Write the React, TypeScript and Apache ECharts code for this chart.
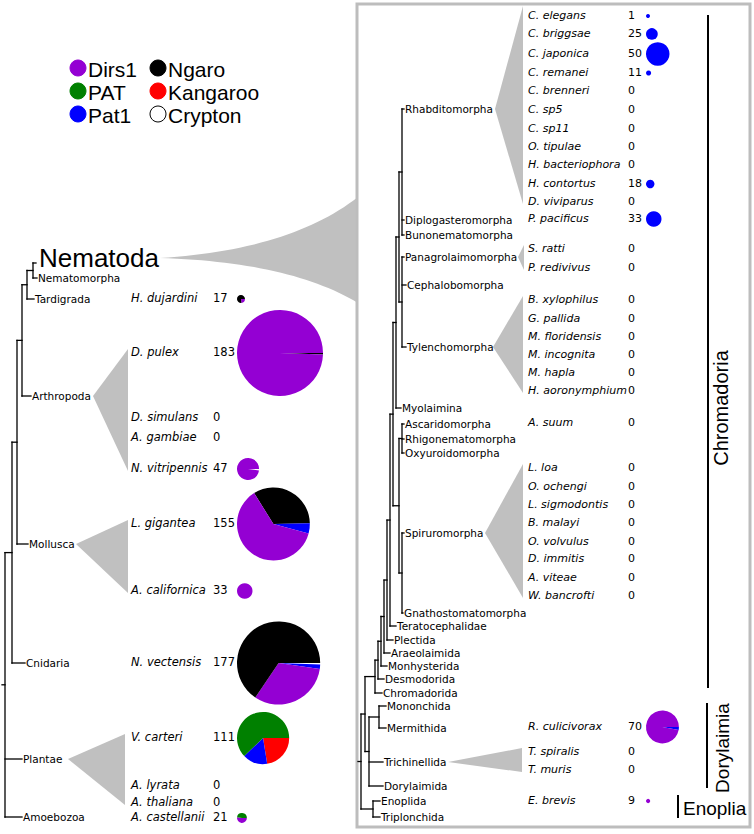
import React, { useEffect, useRef } from "react";
import * as echarts from "echarts";

// ---------- data ----------
const families = ["Dirs1", "PAT", "Pat1", "Ngaro", "Kangaroo", "Crypton"];
const familyColors = ["#9400D3", "#008000", "#0000FF", "#000000", "#FF0000", "#FFFFFF"];

const leftSpecies = ["H. dujardini", "D. pulex", "D. simulans", "A. gambiae", "N. vitripennis", "L. gigantea",
  "A. californica", "N. vectensis", "V. carteri", "A. lyrata", "A. thaliana", "A. castellanii"];
const leftCounts = [17, 183, 0, 0, 47, 155, 33, 177, 111, 0, 0, 21];

const rightSpecies = ["C. elegans", "C. briggsae", "C. japonica", "C. remanei", "C. brenneri", "C. sp5", "C. sp11",
  "O. tipulae", "H. bacteriophora", "H. contortus", "D. viviparus", "P. pacificus", "S. ratti", "P. redivivus",
  "B. xylophilus", "G. pallida", "M. floridensis", "M. incognita", "M. hapla", "H. aoronymphium", "A. suum",
  "L. loa", "O. ochengi", "L. sigmodontis", "B. malayi", "O. volvulus", "D. immitis", "A. viteae", "W. bancrofti",
  "R. culicivorax", "T. spiralis", "T. muris", "E. brevis"];
const rightCounts = [1, 25, 50, 11, 0, 0, 0, 0, 0, 18, 0, 33, 0, 0, 0, 0, 0, 0, 0, 0, 0, 0, 0, 0, 0, 0, 0, 0, 0, 70, 0, 0, 9];

// slice composition, listed clockwise from the pie's start angle
const composition: Record<string, [string, number][]> = {
  "H. dujardini": [["Dirs1", 4], ["Ngaro", 13]],
  "D. pulex": [["Ngaro", 1], ["Dirs1", 182]],
  "N. vitripennis": [["Crypton", 1], ["Dirs1", 46]],
  "L. gigantea": [["Ngaro", 52], ["Pat1", 7], ["Dirs1", 96]],
  "A. californica": [["Dirs1", 33]],
  "N. vectensis": [["Crypton", 1], ["Pat1", 3], ["Dirs1", 57], ["Ngaro", 116]],
  "V. carteri": [["Kangaroo", 25], ["Pat1", 17], ["PAT", 69]],
  "A. castellanii": [["Dirs1", 11], ["PAT", 10]],
  "C. elegans": [["Pat1", 1]],
  "C. briggsae": [["Pat1", 25]],
  "C. japonica": [["Pat1", 50]],
  "C. remanei": [["Pat1", 11]],
  "H. contortus": [["Pat1", 18]],
  "P. pacificus": [["Pat1", 33]],
  "R. culicivorax": [["Pat1", 2], ["Dirs1", 68]],
  "E. brevis": [["Dirs1", 9]],
};
const pieStartAngle: Record<string, number> = { "L. gigantea": 122 };

// ---------- layout ----------
const leftRowY = [298, 352, 417, 437, 468, 523, 590, 662, 737, 785, 802, 817];
const rightRowY = [15, 33, 53, 72, 90, 109, 128, 146, 164, 183, 201, 218, 248, 267, 299, 318, 336, 354, 372, 390,
  422, 467, 486, 504, 522, 541, 558, 577, 595, 726, 751, 769, 800];

type Leaf = { leaf: string; y: number; lx: number; big?: boolean };
type TNode = { x: number; children: (Leaf | TNode)[] };

const leftTree: TNode = {
  x: 5, children: [
    { x: 12, children: [
      { x: 17, children: [
        { x: 22, children: [
          { x: 27, children: [
            { x: 33, children: [{ leaf: "Nematoda", y: 263, lx: 37, big: true }, { leaf: "Nematomorpha", y: 278, lx: 38 }] },
            { leaf: "Tardigrada", y: 299, lx: 35 }] },
          { leaf: "Arthropoda", y: 396, lx: 32 }] },
        { leaf: "Mollusca", y: 544, lx: 29 }] },
      { leaf: "Cnidaria", y: 663, lx: 26 }] },
    { leaf: "Plantae", y: 759, lx: 23 },
    { leaf: "Amoebozoa", y: 817, lx: 23 }],
};

const rightTree: TNode = {
  x: 361, children: [
    { x: 365, children: [
      { x: 375, children: [
        { x: 378, children: [
          { x: 381, children: [
            { x: 384, children: [
              { x: 387, children: [
                { x: 390, children: [
                  { x: 393, children: [
                    { x: 396, children: [
                      { x: 399, children: [
                        { x: 402, children: [
                          { leaf: "Rhabditomorpha", y: 109, lx: 405 },
                          { leaf: "Diplogasteromorpha", y: 220, lx: 405 },
                          { leaf: "Bunonematomorpha", y: 235, lx: 405 }] },
                        { x: 402, children: [
                          { leaf: "Panagrolaimomorpha", y: 257, lx: 405 },
                          { leaf: "Cephalobomorpha", y: 285, lx: 407 },
                          { leaf: "Tylenchomorpha", y: 347, lx: 407 }] }] },
                      { leaf: "Myolaimina", y: 408, lx: 402 }] },
                    { x: 399, children: [
                      { x: 402, children: [
                        { leaf: "Ascaridomorpha", y: 424, lx: 405 },
                        { leaf: "Rhigonematomorpha", y: 439, lx: 405 },
                        { leaf: "Oxyuroidomorpha", y: 453, lx: 405 }] },
                      { x: 402, children: [
                        { leaf: "Spiruromorpha", y: 533, lx: 405 },
                        { leaf: "Gnathostomatomorpha", y: 613, lx: 404 }] }] }] },
                  { leaf: "Teratocephalidae", y: 626, lx: 397 }] },
                { leaf: "Plectida", y: 640, lx: 394 }] },
              { leaf: "Araeolaimida", y: 653, lx: 391 }] },
            { leaf: "Monhysterida", y: 666, lx: 388 }] },
          { leaf: "Desmodorida", y: 679, lx: 385 }] },
        { leaf: "Chromadorida", y: 693, lx: 383 }] },
      { x: 369, children: [
        { x: 379, children: [{ leaf: "Mononchida", y: 706, lx: 387 }, { leaf: "Mermithida", y: 728, lx: 387 }] },
        { leaf: "Trichinellida", y: 762, lx: 384 },
        { leaf: "Dorylaimida", y: 786, lx: 384 }] }] },
    { x: 373, children: [{ leaf: "Enoplida", y: 801, lx: 381 }, { leaf: "Triplonchida", y: 817, lx: 381 }] }],
};

// collapsed clade wedges: tip x, tip y, first/last species index, right x, side
const wedges = [
  { side: "L", tipX: 93, tipY: 396, from: 1, to: 4, rx: 128, padTop: 3 },
  { side: "L", tipX: 76, tipY: 544, from: 5, to: 6, rx: 128, padTop: 3 },
  { side: "L", tipX: 68, tipY: 759, from: 8, to: 10, rx: 125, padTop: 3 },
  { side: "R", tipX: 495, tipY: 109, from: 0, to: 10, rx: 523, padTop: 9 },
  { side: "R", tipX: 518, tipY: 257, from: 12, to: 13, rx: 524, padTop: 3 },
  { side: "R", tipX: 493, tipY: 347, from: 14, to: 19, rx: 523, padTop: 3 },
  { side: "R", tipX: 485, tipY: 533, from: 21, to: 28, rx: 523, padTop: 3 },
  { side: "R", tipX: 448, tipY: 762, from: 30, to: 31, rx: 522, padTop: 3 },
];

const SMALL = '10.5px "DejaVu Sans"';
const SPEC_L = 'italic 11.5px "DejaVu Sans"';
const NUM_L = '11.5px "DejaVu Sans"';
const SPEC_R = 'italic 11px "DejaVu Sans"';
const NUM_R = '11px "DejaVu Sans"';

function isLeaf(n: Leaf | TNode): n is Leaf {
  return (n as Leaf).leaf !== undefined;
}

function walk(node: TNode, lines: number[][][], labels: Leaf[]): number {
  const ys = node.children.map((c) => {
    if (isLeaf(c)) { labels.push(c); return c.y; }
    return walk(c, lines, labels);
  });
  lines.push([[node.x, ys[0]], [node.x, ys[ys.length - 1]]]);
  node.children.forEach((c, i) => {
    const endX = isLeaf(c) ? c.lx - 1 : c.x;
    lines.push([[node.x, ys[i]], [endX, ys[i]]]);
  });
  return (ys[0] + ys[ys.length - 1]) / 2;
}

function quad(p0: number[], c: number[], p2: number[], n: number) {
  const pts: number[][] = [];
  for (let i = 0; i <= n; i++) {
    const t = i / n;
    const a = (1 - t) * (1 - t), b = 2 * (1 - t) * t, d = t * t;
    pts.push([a * p0[0] + b * c[0] + d * p2[0], a * p0[1] + b * c[1] + d * p2[1]]);
  }
  return pts;
}

function buildOption() {
  const graphics: any[] = [];
  const lineStyle = { stroke: "#000", lineWidth: 1.3, fill: null, lineCap: "square" };

  // Nematoda fan
  const top = quad([160, 258], [290, 250], [358, 197], 30);
  const bot = quad([160, 258], [290, 262], [358, 303], 30).reverse();
  graphics.push({ type: "polygon", shape: { points: top.concat(bot) }, style: { fill: "#c0c0c0" }, silent: true });

  // right box
  graphics.push({ type: "rect", shape: { x: 357, y: 4, width: 393, height: 823 },
    style: { fill: "none", stroke: "#bdbdbd", lineWidth: 3 }, silent: true });

  // wedges
  wedges.forEach((w) => {
    const rows = w.side === "L" ? leftRowY : rightRowY;
    const y0 = rows[w.from] - w.padTop, y1 = rows[w.to] + 3;
    graphics.push({ type: "polygon", shape: { points: [[w.tipX, w.tipY], [w.rx, y0], [w.rx, y1]] },
      style: { fill: "#c0c0c0" }, silent: true });
  });

  // trees
  [leftTree, rightTree].forEach((tree) => {
    const lines: number[][][] = [];
    const labels: Leaf[] = [];
    const rootY = walk(tree, lines, labels);
    lines.push([[tree.x - 3, rootY], [tree.x, rootY]]);
    lines.forEach((pts) => graphics.push({ type: "polyline", shape: { points: pts }, style: lineStyle, silent: true }));
    labels.forEach((l) => {
      graphics.push({
        type: "text", x: l.big ? l.lx + 2 : l.lx, y: l.big ? l.y - 5 : l.y, silent: true,
        style: { text: l.leaf, font: l.big ? '26px "Liberation Sans"' : SMALL, fill: "#000",
          textAlign: "left", align: "left", textVerticalAlign: "middle", verticalAlign: "middle" },
      });
    });
  });

  // species names & counts
  const addSpecies = (names: string[], counts: number[], rows: number[], nameX: number, numX: number,
    fSpec: string, fNum: string) => {
    names.forEach((s, i) => {
      graphics.push({ type: "text", x: nameX, y: rows[i], silent: true,
        style: { text: s, font: fSpec, fill: "#000", textAlign: "left", align: "left", textVerticalAlign: "middle", verticalAlign: "middle" } });
      graphics.push({ type: "text", x: numX, y: rows[i], silent: true,
        style: { text: String(counts[i]), font: fNum, fill: "#000", textAlign: "left", align: "left", textVerticalAlign: "middle", verticalAlign: "middle" } });
    });
  };
  addSpecies(leftSpecies, leftCounts, leftRowY, 131, 213, SPEC_L, NUM_L);
  addSpecies(rightSpecies, rightCounts, rightRowY, 528, 628, SPEC_R, NUM_R);

  // legend
  const legendCols = [[0, 1, 2], [3, 4, 5]];
  legendCols.forEach((col, ci) => {
    col.forEach((fi, ri) => {
      const cx = ci === 0 ? 78 : 158;
      const cy = 68 + ri * 23;
      graphics.push({ type: "circle", shape: { cx, cy, r: 8 }, silent: true,
        style: { fill: familyColors[fi], stroke: families[fi] === "Crypton" ? "#000" : familyColors[fi], lineWidth: 1 } });
      graphics.push({ type: "text", x: cx + 10, y: cy + 1, silent: true,
        style: { text: families[fi], font: '21px "Liberation Sans"', fill: "#000", textAlign: "left", align: "left",
          textVerticalAlign: "middle", verticalAlign: "middle" } });
    });
  });

  // clade brackets
  const bracket = (x: number, y0: number, y1: number) =>
    graphics.push({ type: "line", shape: { x1: x, y1: y0, x2: x, y2: y1 }, style: { stroke: "#000", lineWidth: 2 }, silent: true });
  bracket(708, 15, 688);
  bracket(707, 703, 788);
  bracket(678, 795, 818);
  const bigLabel = (t: string, x: number, y: number, rot: number, align: string, size: number) =>
    graphics.push({ type: "text", x, y, rotation: rot, silent: true,
      style: { text: t, font: size + 'px "Liberation Sans"', fill: "#000", textAlign: align, align,
        textVerticalAlign: "middle", verticalAlign: "middle" } });
  bigLabel("Chromadoria", 721, 408, Math.PI / 2, "center", 20);
  bigLabel("Dorylaimia", 722, 748, Math.PI / 2, "center", 19);
  bigLabel("Enoplia", 683, 808, 0, "left", 19);

  // pies
  const series: any[] = [];
  const rScale = 0.235;
  const addPies = (names: string[], counts: number[], rows: number[], leftEdge: number) => {
    names.forEach((s, i) => {
      if (!counts[i] || !composition[s]) return;
      const r = Math.max(2, counts[i] * rScale);
      series.push({
        type: "pie", name: s, silent: true, center: [leftEdge + r, rows[i] + 1], radius: r,
        startAngle: pieStartAngle[s] ?? 0, clockwise: true, label: { show: false }, labelLine: { show: false },
        emphasis: { disabled: true }, itemStyle: { borderWidth: 0 },
        data: composition[s].map(([f, v]) => ({ name: f, value: v, itemStyle: { color: familyColors[families.indexOf(f)] } })),
      });
    });
  };
  addPies(leftSpecies, leftCounts, leftRowY, 237);
  addPies(rightSpecies, rightCounts, rightRowY, 646);

  return { animation: false, backgroundColor: "#fff", graphic: { elements: graphics }, series };
}

export default function App() {
  const ref = useRef<HTMLDivElement>(null);
  useEffect(() => {
    document.body.style.margin = "0";
    const chart = echarts.init(ref.current!, undefined, { renderer: "svg" });
    chart.setOption(buildOption() as any);
    return () => chart.dispose();
  }, []);
  return <div ref={ref} style={{ width: 754, height: 834, position: "absolute", left: 0, top: 0 }} />;
}
